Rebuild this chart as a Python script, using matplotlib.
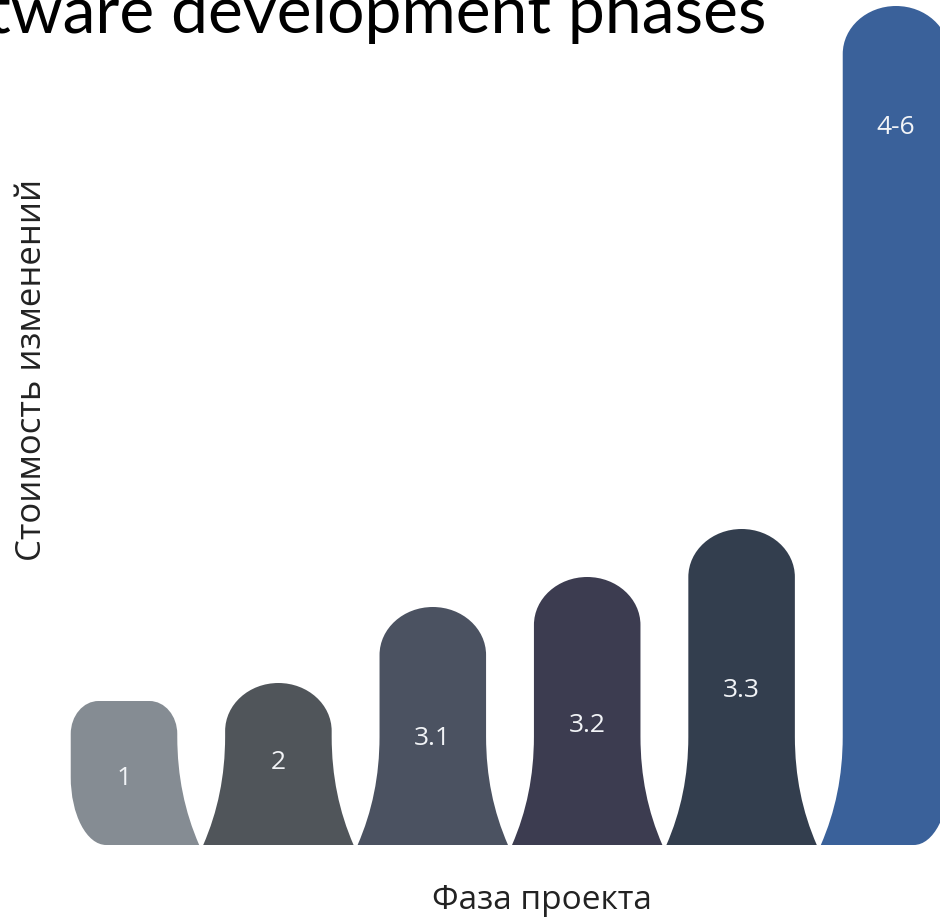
import numpy as np
import matplotlib
matplotlib.use('Agg')
import matplotlib.pyplot as plt
from matplotlib.path import Path
from matplotlib.patches import PathPatch

# Данные
phases = ['1', '2', '3.1', '3.2', '3.3', '4-6']
cost = [144, 162, 238, 268, 316, 839]
label_height = [67, 83, 107, 120, 155, 718]
colors = ['#858c93', '#50555a', '#4b5261', '#3c3c50', '#333e4e', '#3a619a']

# форма "колокола"
HW = 0.345        # половина ширины столбца
FLARE = 0.142     # расширение у основания
FLARE_H = 108     # высота начала расширения
FLARE_C = 50      # контрольная точка кривой
K = 0.5523


def bell(c, h, left='flare', right='flare', rtx=HW, rty=48, rinx=0.23, riny=68):
    xl, xr = c - HW, c + HW
    v, codes = [], []
    # левая сторона снизу
    if left == 'flare':
        v += [(xl - FLARE, 0), (xl, FLARE_C), (xl, FLARE_H)]
        codes += [Path.MOVETO, Path.CURVE3, Path.CURVE3]
    else:
        v += [(xl + rinx, 0), (xl + rinx * (1 - K), 0), (xl, riny * (1 - K)), (xl, riny)]
        codes += [Path.MOVETO, Path.CURVE4, Path.CURVE4, Path.CURVE4]
    # верх
    v += [(xl, h - rty),
          (xl, h - rty * (1 - K)), (xl + rtx * (1 - K), h), (xl + rtx, h),
          (xr - rtx, h),
          (xr - rtx * (1 - K), h), (xr, h - rty * (1 - K)), (xr, h - rty)]
    codes += [Path.LINETO, Path.CURVE4, Path.CURVE4, Path.CURVE4,
              Path.LINETO, Path.CURVE4, Path.CURVE4, Path.CURVE4]
    # правая сторона вниз
    if right == 'flare':
        v += [(xr, FLARE_H), (xr, FLARE_C), (xr + FLARE, 0)]
        codes += [Path.LINETO, Path.CURVE3, Path.CURVE3]
    else:
        v += [(xr, riny), (xr, riny * (1 - K)), (xr - rinx * (1 - K), 0), (xr - rinx, 0)]
        codes += [Path.LINETO, Path.CURVE4, Path.CURVE4, Path.CURVE4]
    v.append((0, 0))
    codes.append(Path.CLOSEPOLY)
    return Path(v, codes)


W, H = 940, 921
fig = plt.figure(figsize=(W / 100, H / 100), dpi=100)
ax = fig.add_axes([0, (H - 845) / H, 1, 845 / H])
ax.set_xlim(-124 / 154.4, (W - 124) / 154.4)
ax.set_ylim(0, 845)
ax.axis('off')

n = len(phases)
for i, (ph, h, ly, col) in enumerate(zip(phases, cost, label_height, colors)):
    left = 'round' if i == 0 else 'flare'
    right = 'round' if i == n - 1 else 'flare'
    if i == 0:
        p = bell(i, h, left, right, rtx=0.18, rty=33)
    else:
        p = bell(i, h, left, right)
    ax.add_patch(PathPatch(p, facecolor=col, edgecolor='none'))
    ax.text(i, ly, ph, ha='center', va='center', color='#f2f4f7',
            fontsize=19, family='Open Sans')

# обрезанный заголовок сверху
fig.text(766 / W, 1 - 33 / H, 'Cost of changes in software development phases',
         ha='right', va='baseline', fontsize=47.5, family='Lato', color='black')

fig.text(32 / W, 1 - 370 / H, 'Стоимость изменений', rotation=90,
         ha='center', va='center', fontsize=25, family='Open Sans', color='#222222')
fig.text(542 / W, 1 - 900 / H, 'Фаза проекта', ha='center', va='center',
         fontsize=24, family='Open Sans', color='#222222')

fig.savefig('out.png', dpi=100)
